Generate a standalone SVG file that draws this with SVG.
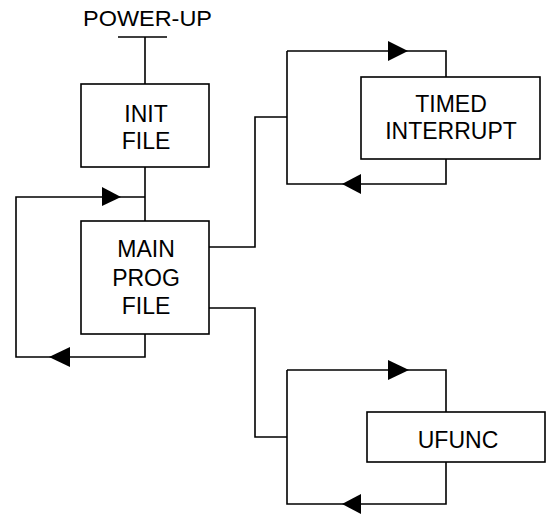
<svg xmlns="http://www.w3.org/2000/svg" width="546" height="514" viewBox="0 0 546 514">
<style>
.ln{fill:none;stroke:#000;stroke-width:1.6}
.bx{fill:#fff;stroke:#000;stroke-width:1.6}
.ar{fill:#000;stroke:none}
text{font-family:"Liberation Sans",Arial,sans-serif;font-size:23px;fill:#000;text-anchor:middle}
</style>
<rect width="546" height="514" fill="#fff"/>
<g id="connectors">
<path class="ln" d="M118 37H167M145 37V84"/>
<path class="ln" d="M145 167V221"/>
<path class="ln" d="M145 197H16V357H145V334"/>
<path class="ln" d="M209 247H255V117H287"/>
<path class="ln" d="M287 51H446V77M446 159V184H287V51"/>
<path class="ln" d="M209 308H255V437H287"/>
<path class="ln" d="M287 370H446V412M446 462V504H287V370"/>
<polygon class="ar" points="102,187 121,197 102,206"/>
<polygon class="ar" points="70,347 49,357 70,367"/>
<polygon class="ar" points="388,41 408,51 388,61"/>
<polygon class="ar" points="361,174 342,184 361,194"/>
<polygon class="ar" points="388,360 409,370 388,380"/>
<polygon class="ar" points="361,494 342,504 361,514"/>
</g>
<g id="powerup">
<text x="147.5" y="26" textLength="129" lengthAdjust="spacingAndGlyphs" style="font-size:21.5px">POWER-UP</text>
</g>
<g id="init">
<rect class="bx" x="81" y="84" width="128" height="83"/>
<text x="146" y="122">INIT</text>
<text x="146" y="149">FILE</text>
</g>
<g id="main">
<rect class="bx" x="81" y="221" width="128" height="113"/>
<text x="146" y="257">MAIN</text>
<text x="146" y="286">PROG</text>
<text x="146" y="314">FILE</text>
</g>
<g id="timed">
<rect class="bx" x="361" y="77" width="179" height="82"/>
<text x="451" y="111.5">TIMED</text>
<text x="451" y="138.5">INTERRUPT</text>
</g>
<g id="ufunc">
<rect class="bx" x="367" y="412" width="178" height="50"/>
<text x="458" y="448">UFUNC</text>
</g>
</svg>
